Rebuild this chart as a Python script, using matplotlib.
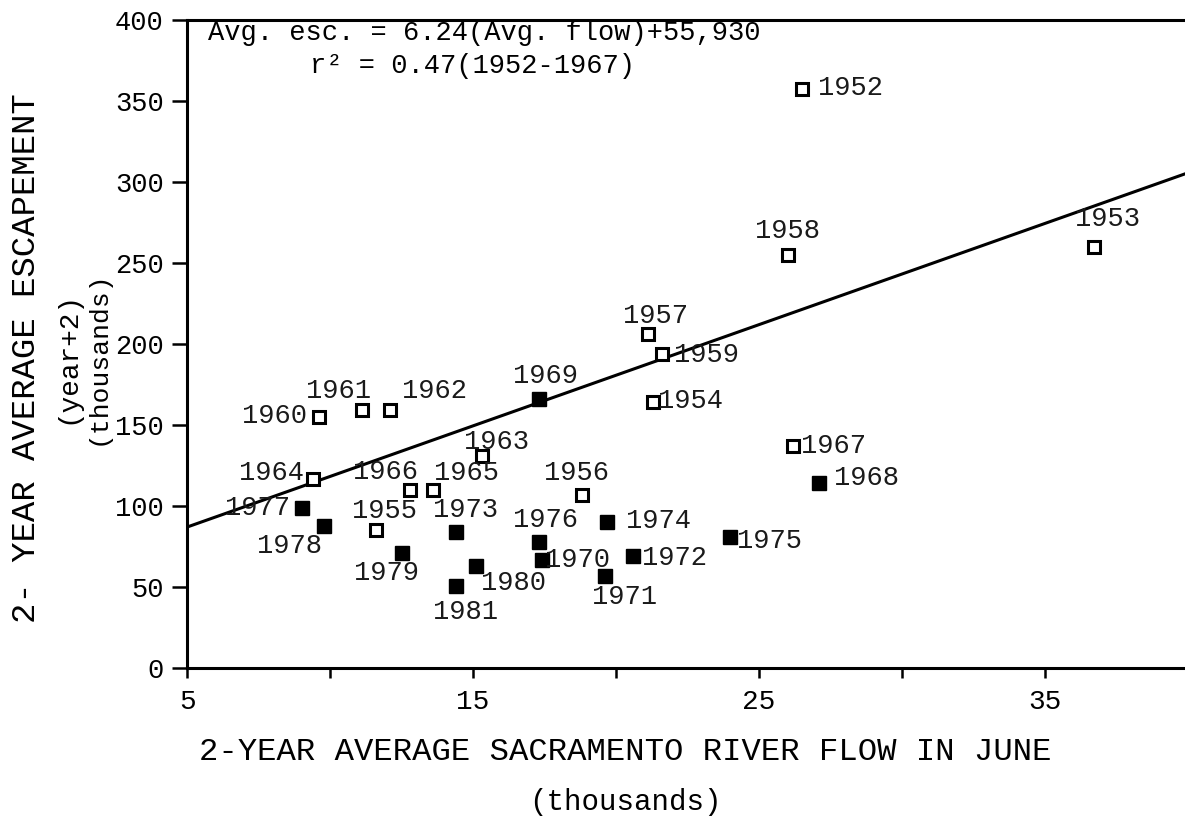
import numpy as np
import matplotlib.pyplot as plt

# open squares: 1952-1967 (used for the regression)
years_open = [1952, 1953, 1954, 1955, 1956, 1957, 1958, 1959,
              1960, 1961, 1962, 1963, 1964, 1965, 1966, 1967]
flow_open = [26.5, 36.7, 21.3, 11.6, 18.8, 21.1, 26.0, 21.6,
             9.6, 11.1, 12.1, 15.3, 9.4, 13.6, 12.8, 26.2]
esc_open = [357, 260, 164, 85, 107, 206, 255, 194,
            155, 159, 159, 131, 117, 110, 110, 137]

# filled squares: 1968-1981
years_fill = [1968, 1969, 1970, 1971, 1972, 1973, 1974,
              1975, 1976, 1977, 1978, 1979, 1980, 1981]
flow_fill = [27.1, 17.3, 17.4, 19.6, 20.6, 14.4, 19.7,
             24.0, 17.3, 9.0, 9.8, 12.5, 15.1, 14.4]
esc_fill = [114, 166, 67, 57, 69, 84, 90,
            81, 78, 99, 88, 71, 63, 51]

# regression given on the chart
slope = 6.24
intercept = 55.93

# label offsets (points) for each year
label_off = {
    1952: (35, 1), 1953: (10, 20), 1954: (27, 1), 1955: (6, 14),
    1956: (-4, 16), 1957: (6, 13), 1958: (0, 17), 1959: (32, -1),
    1960: (-32, 1), 1961: (-17, 14), 1962: (32, 14), 1963: (11, 10),
    1964: (-30, 4), 1965: (24, 12), 1966: (-18, 13), 1967: (29, 0),
    1968: (34, 4), 1969: (5, 17), 1970: (26, 0), 1971: (14, -15),
    1972: (30, -1), 1973: (7, 16), 1974: (37, 1), 1975: (28, -3),
    1976: (5, 16), 1977: (-32, 0), 1978: (-25, -15), 1979: (-11, -14),
    1980: (27, -12), 1981: (7, -19),
}

mono = 'Liberation Mono'
plt.rcParams['font.family'] = [mono, 'DejaVu Sans']

fig = plt.figure(figsize=(11.85, 8.19), dpi=100)
ax = fig.add_axes([0.158, 0.184, 0.842, 0.792])

xs = np.array([5, 40])
ax.plot(xs, slope * xs + intercept, color='black', lw=2.2, zorder=2)

ax.plot(flow_open, esc_open, 's', ms=8.5, mfc='white', mec='black',
        mew=2.2, ls='none', zorder=3)
ax.plot(flow_fill, esc_fill, 's', ms=9.5, mfc='black', mec='black',
        ls='none', zorder=3)

for yr, x, y in zip(years_open + years_fill, flow_open + flow_fill,
                    esc_open + esc_fill):
    ax.annotate(str(yr), (x, y), xytext=label_off[yr],
                textcoords='offset points', ha='center', va='center',
                fontsize=19.5, color='#1a1a1a')

ax.text(0.021, 0.979, 'Avg. esc. = 6.24(Avg. flow)+55,930',
        transform=ax.transAxes, fontsize=19.5, va='center', ha='left')
ax.text(0.123, 0.929, 'r² = 0.47(1952-1967)',
        transform=ax.transAxes, fontsize=19.5, va='center', ha='left')

ax.set_xlim(5, 39.9)
ax.set_ylim(0, 400)
ax.set_xticks([5, 10, 15, 20, 25, 30, 35])
ax.set_xticklabels(['5', '', '15', '', '25', '', '35'])
ax.set_yticks(range(0, 401, 50))

for s in ['left', 'top', 'bottom']:
    ax.spines[s].set_linewidth(2.2)
ax.spines['right'].set_visible(False)
ax.tick_params(axis='x', direction='out', length=7, width=1.8,
               labelsize=20, pad=8)
ax.tick_params(axis='y', direction='out', length=11, width=1.8,
               labelsize=19.5, pad=6)

fig.text(0.528, 0.082, '2-YEAR AVERAGE SACRAMENTO RIVER FLOW IN JUNE',
         ha='center', va='center', fontsize=23.2)
fig.text(0.528, 0.021, '(thousands)', ha='center', va='center', fontsize=21)

fig.text(0.022, 0.563, '2- YEAR AVERAGE ESCAPEMENT', rotation=90,
         ha='center', va='center', fontsize=24.5)
fig.text(0.057, 0.563, '(year+2)', rotation=90,
         ha='center', va='center', fontsize=20)
fig.text(0.082, 0.563, '(thousands)', rotation=90,
         ha='center', va='center', fontsize=19)

fig.savefig('out.png', dpi=100)
